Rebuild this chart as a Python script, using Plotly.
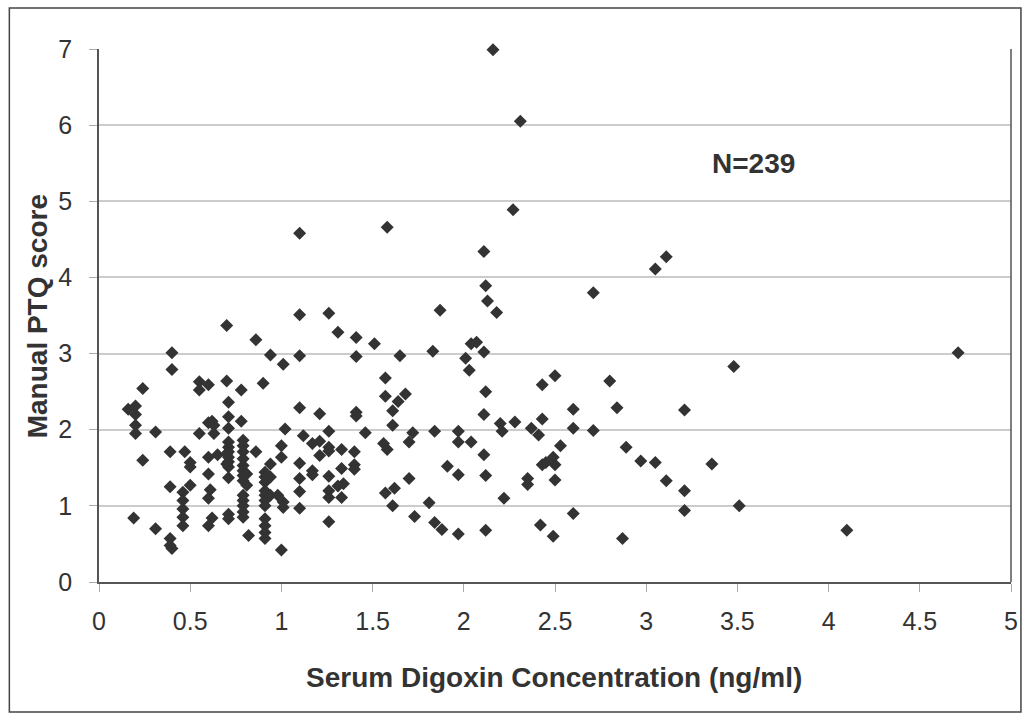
import plotly.graph_objects as go

# Serum digoxin concentration (ng/ml)
digoxin = [
    0.16, 0.20, 0.20, 0.20, 0.20, 0.24, 0.24, 0.19, 0.31, 0.31, 0.40, 0.40, 0.39, 0.39, 0.39, 0.39, 0.40,
    0.47, 0.46, 0.46, 0.46, 0.46, 0.46,
    0.50, 0.50, 0.50, 0.55, 0.55, 0.55, 0.60, 0.60, 0.62, 0.63, 0.63, 0.60, 0.65, 0.60, 0.61, 0.60, 0.62, 0.60,
    0.70, 0.70, 0.71, 0.71, 0.71, 0.71, 0.71, 0.71, 0.71, 0.71, 0.71, 0.71, 0.71, 0.71, 0.70, 0.70,
    0.78, 0.78, 0.79, 0.79, 0.79, 0.79, 0.79, 0.79, 0.79, 0.79, 0.79, 0.79, 0.79, 0.79, 0.79, 0.81, 0.81, 0.82,
    0.86, 0.86, 0.90, 0.94, 0.94, 0.91, 0.91, 0.91, 0.91, 0.91, 0.91, 0.91, 0.91, 0.91, 0.91, 0.91,
    0.94, 0.94, 0.98, 1.01, 1.01, 1.01, 1.02, 1.00, 1.00, 1.00,
    1.10, 1.10, 1.26, 1.31, 1.41, 1.51, 1.10, 1.41, 1.10, 1.21, 1.41, 1.41, 1.12, 1.26, 1.46, 1.17, 1.21,
    1.21, 1.26, 1.26, 1.33, 1.40, 1.10, 1.17, 1.17, 1.10, 1.26, 1.33, 1.40, 1.40, 1.10, 1.26, 1.26, 1.31,
    1.34, 1.33, 1.10, 1.26,
    1.58, 1.87, 1.65, 1.83, 1.57, 1.57, 1.64, 1.68, 1.61, 1.61, 1.72, 1.70, 1.84, 1.97, 1.97, 1.56, 1.58,
    1.57, 1.62, 1.70, 1.61, 1.81, 1.73, 1.84, 1.88, 1.97, 1.91, 1.97,
    2.16, 2.31, 2.27, 2.11, 2.12, 2.13, 2.18, 2.04, 2.07, 2.11, 2.01, 2.03, 2.12, 2.11, 2.04, 2.20, 2.21,
    2.28, 2.37, 2.41, 2.43, 2.43, 2.11, 2.12, 2.22, 2.35, 2.35, 2.42, 2.12, 2.43, 2.45, 2.49, 2.50, 2.50,
    2.49, 2.50, 2.53,
    2.60, 2.60, 2.60, 2.71, 2.71, 2.80, 2.84, 2.89, 2.87, 2.97, 3.05, 3.11, 3.05, 3.11, 3.21, 3.21, 3.21,
    3.36, 3.48, 3.51, 4.10, 4.71,
]

# Manual PTQ score
ptq = [
    2.27, 2.31, 2.20, 2.06, 1.95, 2.54, 1.60, 0.84, 1.97, 0.70, 3.01, 2.79, 1.71, 1.25, 0.57, 0.48, 0.44,
    1.71, 1.18, 1.07, 0.96, 0.85, 0.74,
    1.57, 1.51, 1.27, 2.63, 2.52, 1.95, 2.59, 2.09, 2.11, 2.06, 1.95, 1.64, 1.67, 1.42, 1.21, 1.10, 0.84, 0.74,
    3.37, 2.64, 2.36, 2.17, 2.02, 1.84, 1.77, 1.71, 1.64, 1.58, 1.51, 1.37, 0.89, 0.83, 1.68, 1.55,
    2.52, 2.11, 1.86, 1.79, 1.71, 1.62, 1.53, 1.46, 1.40, 1.33, 1.14, 1.07, 1.00, 0.92, 0.85, 1.42, 1.27, 0.61,
    3.18, 1.71, 2.61, 2.98, 1.55, 1.44, 1.38, 1.31, 1.20, 1.14, 1.07, 1.00, 0.83, 0.74, 0.65, 0.57,
    1.38, 1.14, 1.14, 1.05, 0.98, 2.86, 2.01, 1.79, 1.64, 0.42,
    4.58, 3.51, 3.53, 3.28, 3.21, 3.13, 2.97, 2.96, 2.29, 2.21, 2.23, 2.18, 1.92, 1.98, 1.96, 1.82, 1.85,
    1.66, 1.77, 1.72, 1.74, 1.71, 1.56, 1.46, 1.41, 1.36, 1.39, 1.49, 1.54, 1.48, 1.19, 1.20, 1.11, 1.26,
    1.29, 1.11, 0.97, 0.79,
    4.66, 3.57, 2.97, 3.03, 2.68, 2.44, 2.37, 2.47, 2.25, 2.06, 1.96, 1.84, 1.98, 1.98, 1.84, 1.82, 1.74,
    1.17, 1.23, 1.36, 1.00, 1.04, 0.86, 0.78, 0.69, 0.63, 1.52, 1.41,
    6.99, 6.05, 4.89, 4.34, 3.89, 3.69, 3.54, 3.13, 3.15, 3.02, 2.94, 2.78, 2.50, 2.20, 1.84, 2.08, 1.98,
    2.10, 2.02, 1.93, 2.59, 2.14, 1.67, 1.40, 1.10, 1.36, 1.28, 0.75, 0.68, 1.54, 1.57, 1.64, 1.54, 1.34,
    0.60, 2.71, 1.79,
    2.27, 2.02, 0.90, 3.80, 1.99, 2.64, 2.29, 1.77, 0.57, 1.59, 4.11, 4.27, 1.57, 1.33, 2.26, 1.20, 0.94,
    1.55, 2.83, 1.00, 0.68, 3.01,
]

x_ticks = [0, 0.5, 1, 1.5, 2, 2.5, 3, 3.5, 4, 4.5, 5]
x_tick_labels = ["0", "0.5", "1", "1.5", "2", "2.5", "3", "3.5", "4", "4.5", "5"]
y_ticks = [0, 1, 2, 3, 4, 5, 6, 7]
annotation_text = "N=239"
x_title = "Serum Digoxin Concentration (ng/ml)"
y_title = "Manual PTQ score"

FONT = "Liberation Sans, Arial, sans-serif"
TXT = "#333333"

fig = go.Figure()
fig.add_trace(go.Scatter(
    x=digoxin, y=ptq, mode="markers",
    marker=dict(symbol="diamond", size=10, color="#333333", line=dict(width=0)),
    showlegend=False, cliponaxis=False,
))

fig.update_layout(
    width=1030, height=719,
    margin=dict(l=99, r=15, t=49, b=137),
    paper_bgcolor="white", plot_bgcolor="white",
    font=dict(family=FONT, color=TXT),
    xaxis=dict(
        range=[0, 5], tickvals=x_ticks, ticktext=x_tick_labels,
        showgrid=False, zeroline=False,
        showline=True, linecolor="#555555", linewidth=1.5,
        ticks="outside", ticklen=8, tickcolor="#aaaaaa",
        ticklabelstandoff=8,
        tickfont=dict(size=25, family=FONT, color=TXT),
    ),
    yaxis=dict(
        range=[0, 7], tickvals=y_ticks,
        showgrid=True, gridcolor="#cccccc", gridwidth=1.5, zeroline=False,
        showline=True, linecolor="#555555", linewidth=1.5,
        ticks="outside", ticklen=8, tickcolor="#aaaaaa",
        ticklabelstandoff=12,
        tickfont=dict(size=25, family=FONT, color=TXT),
    ),
    shapes=[
        # right edge of plot area
        dict(type="line", xref="paper", yref="paper", x0=1, x1=1, y0=0, y1=1,
             line=dict(color="#555555", width=1.5)),
        # outer chart border
        dict(type="rect", xref="paper", yref="paper",
             x0=-0.0983, x1=1.0109, y0=-0.244, y1=1.077,
             line=dict(color="#444444", width=1.5)),
    ],
    annotations=[
        dict(text="<b>" + annotation_text + "</b>", x=3.59, y=5.50, xref="x", yref="y",
             showarrow=False, font=dict(size=28, family=FONT, color=TXT)),
        dict(text="<b>" + x_title + "</b>", x=0.499, y=-0.180, xref="paper", yref="paper",
             xanchor="center", yanchor="middle",
             showarrow=False, font=dict(size=28, family=FONT, color=TXT)),
        dict(text="<b>" + y_title + "</b>", x=-0.0677, y=0.499, xref="paper", yref="paper",
             xanchor="center", yanchor="middle", textangle=-90,
             showarrow=False, font=dict(size=28, family=FONT, color=TXT)),
    ],
)

fig.write_html("out.html")
